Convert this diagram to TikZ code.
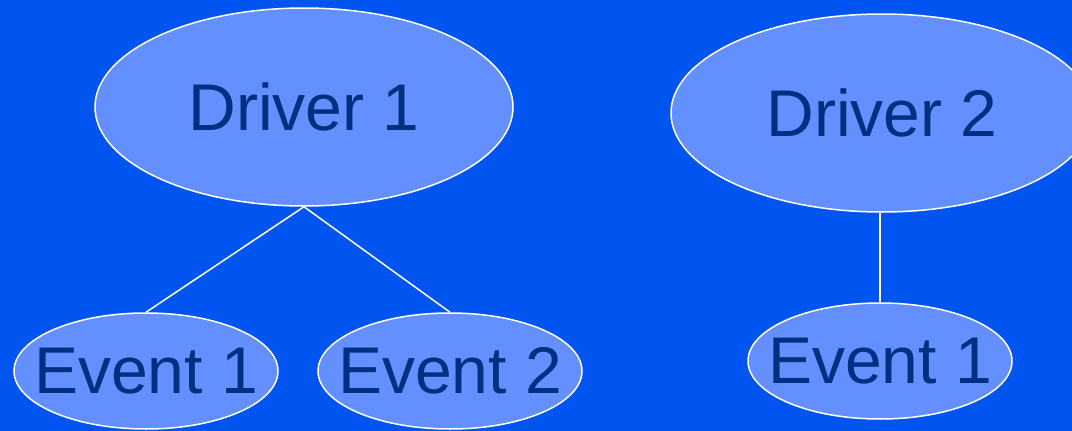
\documentclass[tikz,border=0pt]{standalone}
\usepackage{fontspec}
\setmainfont{Liberation Sans}
\usetikzlibrary{shapes.geometric}
\definecolor{bgblue}{RGB}{0,85,240}
\definecolor{fillblue}{RGB}{100,143,255}
\definecolor{txtnavy}{RGB}{0,46,128}
\newcommand{\ztxt}[1]{\makebox[0pt][c]{#1}}
\tikzset{
  oval/.style={ellipse, draw=white, line width=1.5pt, fill=fillblue, inner sep=0pt,
    text=txtnavy, font=\fontsize{66}{70}\selectfont},
  big/.style={oval, minimum width=418pt, minimum height=198pt},
  small/.style={oval, minimum width=264pt, minimum height=116pt},
  link/.style={draw=white, line width=1.5pt}
}
\begin{document}
\begin{tikzpicture}[x=1pt,y=-1pt]
\fill[bgblue] (0,0) rectangle (1072,431);
\useasboundingbox (0,0) rectangle (1072,431);
\clip (0,0) rectangle (1072,431);
\node[big] (d1) at (304,107) {\ztxt{Driver 1}};
\node[big, minimum width=422pt] (d2) at (882,113) {\ztxt{Driver 2}};
\node[small] (e1) at (146,371) {\ztxt{Event 1}};
\node[small] (e2) at (450,371) {\ztxt{Event 2}};
\node[small] (e3) at (880,361) {\ztxt{Event 1}};
\draw[link] (d1.south) -- (e1.north);
\draw[link] (d1.south) -- (e2.north);
\draw[link] (e3.north |- d2.south) -- (e3.north);
\end{tikzpicture}
\end{document}
